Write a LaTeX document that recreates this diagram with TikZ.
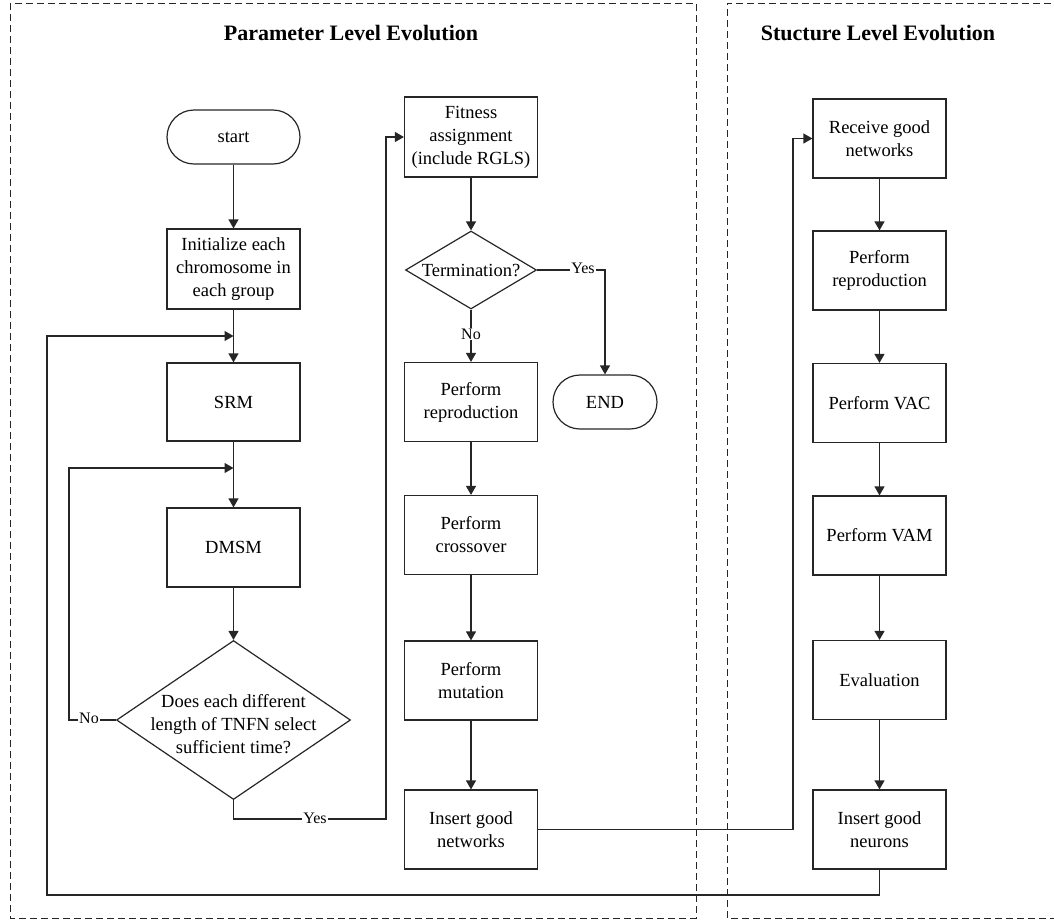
\documentclass[tikz,border=0pt]{standalone}
\usepackage{fontspec}
\setmainfont{Liberation Serif}
\usetikzlibrary{shapes.geometric,arrows.meta}

\begin{document}
\begin{tikzpicture}[x=1pt,y=-1pt,
  every node/.style={font=\fontsize{18.5}{23}\selectfont, text=black},
  box/.style={draw=black!85, line width=1.2pt, minimum width=133pt, minimum height=79pt, align=center, inner sep=2pt},
  terminal/.style={draw=black!85, line width=1.2pt, rounded corners=27pt, minimum height=54pt, align=center},
  decision/.style={draw=black!85, diamond, line width=1.2pt, inner sep=0pt},
  flow/.style={draw=black!85, line width=1.2pt, -{Triangle[length=9pt,width=10pt]}},
  frame/.style={draw=black!85, dash pattern=on 7pt off 4pt, line width=0.9pt},
  tag/.style={fill=white, inner sep=1pt, font=\fontsize{16}{18}\selectfont},
  heading/.style={font=\fontsize{22}{26}\selectfont\bfseries}
]
\useasboundingbox (0,0) rectangle (1054,922);

% the two evolution panels
\draw[frame] (10,3) rectangle (696,918);
\draw[frame] (1062,3) -- (727,3) -- (727,918) -- (1062,918);
\node[heading] (ttl1) at (351,33) {Parameter Level Evolution};
\node[heading] (ttl2) at (878,33) {Stucture Level Evolution};

% parameter level: first column
\node[terminal, minimum width=133pt] (start) at (233.5,137) {start};
\node[box, minimum height=80pt] (init) at (233.5,269) {Initialize each\\chromosome in\\each group};
\node[box, minimum height=78pt] (srm) at (233.5,402) {SRM};
\node[box] (dmsm) at (233.5,547.5) {DMSM};
\node[decision, minimum width=234pt, minimum height=159pt] (dec1) at (233.5,720) {};
\node[align=center] (dec1txt) at (233.5,724) {Does each different\\length of TNFN select\\sufficient time?};

% parameter level: second column
\node[box, minimum height=80pt] (fit) at (471,137) {Fitness\\assignment\\(include RGLS)};
\node[decision, minimum width=131pt, minimum height=78pt] (dec2) at (471,270) {};
\node (dec2txt) at (471,270) {Termination?};
\node[box] (rep1) at (471,402) {Perform\\reproduction};
\node[box] (cross) at (471,535) {Perform\\crossover};
\node[box] (mut) at (471,680.5) {Perform\\mutation};
\node[box] (ins1) at (471,829.5) {Insert good\\networks};
\node[terminal, minimum width=104pt] (end) at (605,402) {END};

% structure level column
\node[box] (recv) at (879.5,138.5) {Receive good\\networks};
\node[box] (rep2) at (879.5,270.5) {Perform\\reproduction};
\node[box] (vac) at (879.5,403) {Perform VAC};
\node[box] (vam) at (879.5,535.5) {Perform VAM};
\node[box] (eval) at (879.5,680) {Evaluation};
\node[box] (ins2) at (879.5,829.5) {Insert good\\neurons};

% junction and bend points of the connectors
\coordinate (j1) at (233.5,336);
\coordinate (j2) at (233.5,468);
\coordinate (noL) at (69,720);
\coordinate (yesB) at (233.5,819);
\coordinate (yesR) at (386,819);
\coordinate (netR) at (793,829.5);
\coordinate (loopB) at (879.5,895);
\coordinate (loopL) at (47,895);
\coordinate (endT) at (605,270);

% first column flow
\draw[flow] (start) -- (init);
\draw[flow] (init) -- (srm);
\draw[flow] (srm) -- (dmsm);
\draw[flow] (dmsm) -- (dec1.north);
\draw[flow] (dec1.west) -- (noL) |- (j2);
\node[tag] (noTag) at (89,718) {No};
\draw[flow] (dec1.south) -- (yesB) -- (yesR) |- (fit.west);
\node[tag] (yesTag) at (315,818) {Yes};

% second column flow
\draw[flow] (fit) -- (dec2.north);
\draw[flow] (dec2.south) -- (rep1);
\node[tag] (noTag2) at (471,334) {No};
\draw[flow] (dec2.east) -- (endT) -- (end.north);
\node[tag] (yesTag2) at (583,268) {Yes};
\draw[flow] (rep1) -- (cross);
\draw[flow] (cross) -- (mut);
\draw[flow] (mut) -- (ins1);

% hand-over to the structure level
\draw[flow] (ins1.east) -- (netR) |- (recv.west);
\draw[flow] (recv) -- (rep2);
\draw[flow] (rep2) -- (vac);
\draw[flow] (vac) -- (vam);
\draw[flow] (vam) -- (eval);
\draw[flow] (eval) -- (ins2);

% feedback to the parameter level
\draw[flow] (ins2.south) -- (loopB) -- (loopL) |- (j1);
\end{tikzpicture}
\end{document}
